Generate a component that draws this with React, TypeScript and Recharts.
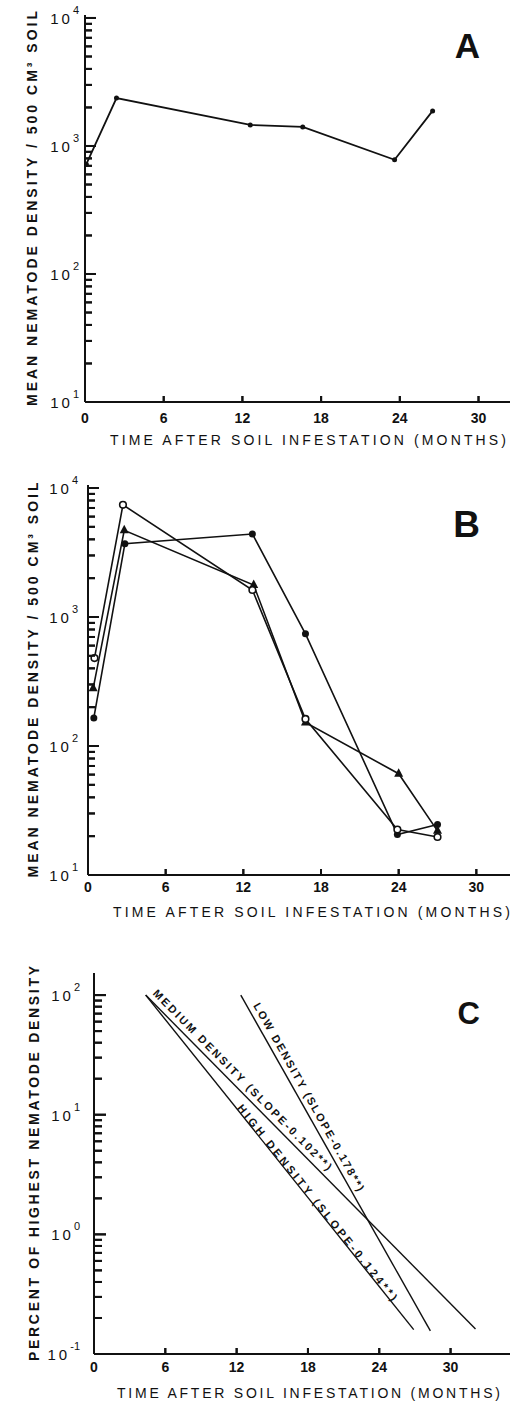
import { LineChart, Line, XAxis, YAxis, ReferenceDot } from 'recharts';

const FONT = '"Liberation Sans", Arial, sans-serif';
const INK = '#111';

// x ticks (months)
const MONTH_TICKS = [0, 6, 12, 18, 24, 30];

// log ticks, decades + minor ticks
const DENSITY_TICKS = [
  10, 20, 30, 40, 50, 60, 70, 80, 90,
  100, 200, 300, 400, 500, 600, 700, 800, 900,
  1000, 2000, 3000, 4000, 5000, 6000, 7000, 8000, 9000,
  10000,
];
const PERCENT_TICKS = [
  0.1, 0.2, 0.3, 0.4, 0.5, 0.6, 0.7, 0.8, 0.9,
  1, 2, 3, 4, 5, 6, 7, 8, 9,
  10, 20, 30, 40, 50, 60, 70, 80, 90,
  100,
];

// panel A
const A_MONTHS = [0.1, 2.4, 12.6, 16.6, 23.6, 26.5];
const A_DENSITY = [720, 2370, 1460, 1410, 780, 1880];

// panel B (open circle, filled triangle, filled circle)
const B_OPEN_MONTHS = [0.5, 2.7, 12.7, 16.8, 23.9, 27.0];
const B_OPEN = [480, 7400, 1620, 162, 22.5, 19.7];
const B_TRI_MONTHS = [0.4, 2.8, 12.8, 16.8, 24.0, 27.0];
const B_TRI = [280, 4700, 1770, 152, 61, 22];
const B_FILLED_MONTHS = [0.45, 2.85, 12.7, 16.8, 23.9, 27.0];
const B_FILLED = [165, 3700, 4400, 740, 20.6, 24.6];

// panel C regression lines (percent of highest density)
const C_MEDIUM_MONTHS = [4.35, 32.1];
const C_MEDIUM = [100, 0.162];
const C_HIGH_MONTHS = [4.35, 26.9];
const C_HIGH = [100, 0.16];
const C_LOW_MONTHS = [12.35, 28.3];
const C_LOW = [100, 0.156];

const zip = (xs: number[], ys: number[]) => xs.map((m, i) => ({ month: m, v: ys[i] }));

// annotation placement for panel C texts (data coords)
const C_NOTES = [
  { text: 'MEDIUM DENSITY (SLOPE-0.102**)', month: 12.5, pct: 19.6, angle: 45.3, len: 249 },
  { text: 'LOW DENSITY (SLOPE-0.178**)', month: 18.1, pct: 14.1, angle: 60.6, len: 214 },
  { text: 'HIGH DENSITY (SLOPE-0.124**)', month: 18.8, pct: 1.85, angle: 51.2, len: 248 },
];

const AXIS_LINE = { stroke: INK, strokeWidth: 2 };

const isDecade = (v: number) => Math.abs(Math.log10(v) - Math.round(Math.log10(v))) < 1e-6;

// tick mark + decade label with superscript
const LogTick = (props: any) => {
  const { x, y, payload, gap, minorLen } = props;
  const px = Number(x);
  const py = Number(y);
  const v = payload.value;
  const major = isDecade(v);
  return (
    <g>
      <rect x={px} y={py - 1} width={major ? minorLen + 4 : minorLen} height={2} fill={INK} />
      {major && (
        <text x={px - gap} y={py + 6} textAnchor="end" fontFamily={FONT} fontSize={15} fill={INK}>
          <tspan letterSpacing={3}>10</tspan>
          <tspan fontSize={11} dy={-10}>{Math.round(Math.log10(v))}</tspan>
        </text>
      )}
    </g>
  );
};

const MonthTick = (props: any) => {
  const { x, y, payload, labelDy } = props;
  const px = Number(x);
  const py = Number(y);
  return (
    <g>
      {payload.value !== 0 && <rect x={px - 1} y={py - 6} width={2} height={6} fill={INK} />}
      <text x={px} y={py + labelDy} textAnchor="middle" fontFamily={FONT} fontSize={14} fontWeight="bold" fill={INK}>
        {payload.value}
      </text>
    </g>
  );
};

// same marks again as dots of an invisible series, so they are drawn in the plot layer
const YMarkDot = (props: any) => {
  const { cx, cy, index, payload, minorLen } = props;
  if (cx == null || cy == null) return <g key={`ym-${index}`} />;
  const w = isDecade(payload.v) ? minorLen + 4 : minorLen;
  return <rect key={`ym-${index}`} x={cx} y={cy - 1} width={w} height={2} fill={INK} />;
};
const XMarkDot = (props: any) => {
  const { cx, cy, index } = props;
  if (cx == null || cy == null) return <g key={`xm-${index}`} />;
  return <rect key={`xm-${index}`} x={cx - 1} y={cy - 6} width={2} height={6} fill={INK} />;
};

const YTitle = ({ viewBox, text, cx }: any) => {
  const cy = viewBox.y + viewBox.height / 2;
  return (
    <text
      transform={`translate(${cx},${cy}) rotate(-90)`}
      textAnchor="middle"
      fontFamily={FONT}
      fontSize={14}
      fontWeight="bold"
      fill={INK}
      textLength={395}
      lengthAdjust="spacing"
    >
      {text}
    </text>
  );
};

const XTitle = ({ viewBox, x, dy, len }: any) => (
  <text
    x={x}
    y={viewBox.y + dy}
    fontFamily={FONT}
    fontSize={14}
    fill={INK}
    textLength={len}
    lengthAdjust="spacing"
  >
    TIME AFTER SOIL INFESTATION (MONTHS)
  </text>
);

const PanelLetter = ({ cx, cy, letter, dy, size }: any) => (
  <text
    x={cx - 30}
    y={cy + dy}
    textAnchor="end"
    fontFamily={FONT}
    fontSize={size}
    fontWeight="bold"
    fill={INK}
  >
    {letter}
  </text>
);

const TriangleDot = (props: any) => {
  const { cx, cy, index } = props;
  if (cx == null || cy == null) return <g key={`t-${index}`} />;
  return (
    <path
      key={`t-${index}`}
      d={`M${cx},${cy - 5.5} L${cx + 4.5},${cy + 3} L${cx - 4.5},${cy + 3} Z`}
      fill={INK}
    />
  );
};

const SlopeText = ({ cx, cy, angle, text, len }: any) => (
  <text
    x={cx}
    y={cy}
    textAnchor="middle"
    dominantBaseline="central"
    transform={`rotate(${angle} ${cx} ${cy})`}
    fontFamily={FONT}
    fontSize={11}
    fontWeight="900"
    fill={INK}
    textLength={len}
    lengthAdjust="spacing"
  >
    {text}
  </text>
);

const Y_TITLE_DENSITY = 'MEAN NEMATODE DENSITY / 500 CM³ SOIL';

function Panel({
  height,
  top,
  yWidth,
  xHeight,
  xMax,
  yDomain,
  yTicks,
  labelGap,
  minorLen,
  tickDy,
  title,
  titleCx,
  xTitle,
  letter,
  children,
}: any) {
  const yMarks = yTicks.map((v: number) => ({ month: 0, v }));
  const xMarks = MONTH_TICKS.filter((m) => m > 0).map((m) => ({ month: m, v: yDomain[0] }));
  return (
    <LineChart width={512} height={height} margin={{ top, right: 2, left: 0, bottom: 0 }}>
      <XAxis
        xAxisId="b"
        type="number"
        dataKey="month"
        domain={[0, xMax]}
        ticks={MONTH_TICKS}
        interval={0}
        allowDataOverflow
        height={xHeight}
        tickSize={0}
        tickMargin={0}
        tickLine={false}
        axisLine={AXIS_LINE}
        tick={(p: any) => <MonthTick {...p} labelDy={tickDy} />}
        label={(p: any) => <XTitle viewBox={p.viewBox} x={xTitle.x} dy={xTitle.dy} len={xTitle.len} />}
      />
      <XAxis
        xAxisId="t"
        orientation="top"
        type="number"
        dataKey="month"
        domain={[0, xMax]}
        allowDataOverflow
        height={0}
        tick={false}
        tickLine={false}
        axisLine={AXIS_LINE}
      />
      <YAxis
        yAxisId="l"
        type="number"
        scale="log"
        domain={yDomain}
        ticks={yTicks}
        interval={0}
        allowDataOverflow
        width={yWidth}
        tickSize={0}
        tickMargin={0}
        tickLine={false}
        axisLine={AXIS_LINE}
        tick={(p: any) => <LogTick {...p} gap={labelGap} minorLen={minorLen} />}
        label={(p: any) => <YTitle viewBox={p.viewBox} text={title} cx={titleCx} />}
      />
      <YAxis
        yAxisId="r"
        orientation="right"
        type="number"
        scale="log"
        domain={yDomain}
        allowDataOverflow
        width={0}
        tick={false}
        tickLine={false}
        axisLine={AXIS_LINE}
      />
      <Line
        xAxisId="b"
        yAxisId="l"
        data={yMarks}
        dataKey="v"
        stroke="none"
        strokeWidth={0}
        dot={(p: any) => <YMarkDot {...p} minorLen={minorLen} />}
        activeDot={false}
        legendType="none"
        isAnimationActive={false}
      />
      <Line
        xAxisId="b"
        yAxisId="l"
        data={xMarks}
        dataKey="v"
        stroke="none"
        strokeWidth={0}
        dot={XMarkDot}
        activeDot={false}
        legendType="none"
        isAnimationActive={false}
      />
      <ReferenceDot
        xAxisId="b"
        yAxisId="l"
        x={xMax}
        y={yDomain[1]}
        r={0}
        ifOverflow="visible"
        shape={(p: any) => <PanelLetter cx={p.cx} cy={p.cy} {...letter} />}
      />
      {children}
    </LineChart>
  );
}

export default function App() {
  return (
    <div style={{ position: 'absolute', left: 0, top: 0, width: 512, height: 1404, background: '#fff', overflow: 'hidden' }}>
      <div style={{ position: 'absolute', left: 0, top: 0 }}>
        <Panel
          height={460}
          top={15}
          yWidth={85}
          xHeight={58}
          xMax={32.4}
          yDomain={[10, 10550]}
          yTicks={DENSITY_TICKS}
          labelGap={6}
          minorLen={7}
          tickDy={21}
          title={Y_TITLE_DENSITY}
          titleCx={37}
          xTitle={{ x: 110, dy: 43, len: 396 }}
          letter={{ letter: 'A', dy: 43, size: 35 }}
        >
          <Line
            xAxisId="b"
            yAxisId="l"
            data={zip(A_MONTHS, A_DENSITY)}
            dataKey="v"
            stroke={INK}
            strokeWidth={1.8}
            dot={{ r: 2.5, fill: INK, stroke: INK, strokeWidth: 0 }}
            isAnimationActive={false}
          />
        </Panel>
      </div>
      <div style={{ position: 'absolute', left: 0, top: 460 }}>
        <Panel
          height={475}
          top={25}
          yWidth={88}
          xHeight={60}
          xMax={32.6}
          yDomain={[10, 10550]}
          yTicks={DENSITY_TICKS}
          labelGap={10}
          minorLen={7}
          tickDy={17}
          title={Y_TITLE_DENSITY}
          titleCx={38}
          xTitle={{ x: 113, dy: 42, len: 397 }}
          letter={{ letter: 'B', dy: 52, size: 37 }}
        >
          <Line
            xAxisId="b"
            yAxisId="l"
            data={zip(B_FILLED_MONTHS, B_FILLED)}
            dataKey="v"
            stroke={INK}
            strokeWidth={1.6}
            dot={{ r: 3.5, fill: INK, stroke: INK, strokeWidth: 0 }}
            isAnimationActive={false}
          />
          <Line
            xAxisId="b"
            yAxisId="l"
            data={zip(B_TRI_MONTHS, B_TRI)}
            dataKey="v"
            stroke={INK}
            strokeWidth={1.6}
            dot={TriangleDot}
            isAnimationActive={false}
          />
          <Line
            xAxisId="b"
            yAxisId="l"
            data={zip(B_OPEN_MONTHS, B_OPEN)}
            dataKey="v"
            stroke={INK}
            strokeWidth={1.6}
            dot={{ r: 3.3, fill: '#fff', stroke: INK, strokeWidth: 1.6 }}
            isAnimationActive={false}
          />
        </Panel>
      </div>
      <div style={{ position: 'absolute', left: 0, top: 935 }}>
        <Panel
          height={469}
          top={38}
          yWidth={94}
          xHeight={50}
          xMax={35}
          yDomain={[0.1, 153]}
          yTicks={PERCENT_TICKS}
          labelGap={14}
          minorLen={8}
          tickDy={18}
          title="PERCENT OF HIGHEST NEMATODE DENSITY"
          titleCx={39}
          xTitle={{ x: 117, dy: 44, len: 383 }}
          letter={{ letter: 'C', dy: 51, size: 31 }}
        >
          <Line xAxisId="b" yAxisId="l" data={zip(C_MEDIUM_MONTHS, C_MEDIUM)} dataKey="v" stroke={INK} strokeWidth={1.4} dot={false} isAnimationActive={false} />
          <Line xAxisId="b" yAxisId="l" data={zip(C_HIGH_MONTHS, C_HIGH)} dataKey="v" stroke={INK} strokeWidth={1.4} dot={false} isAnimationActive={false} />
          <Line xAxisId="b" yAxisId="l" data={zip(C_LOW_MONTHS, C_LOW)} dataKey="v" stroke={INK} strokeWidth={1.4} dot={false} isAnimationActive={false} />
          {C_NOTES.map((n) => (
            <ReferenceDot
              key={n.text}
              xAxisId="b"
              yAxisId="l"
              x={n.month}
              y={n.pct}
              r={0}
              ifOverflow="visible"
              shape={(p: any) => <SlopeText cx={p.cx} cy={p.cy} angle={n.angle} text={n.text} len={n.len} />}
            />
          ))}
        </Panel>
      </div>
    </div>
  );
}
